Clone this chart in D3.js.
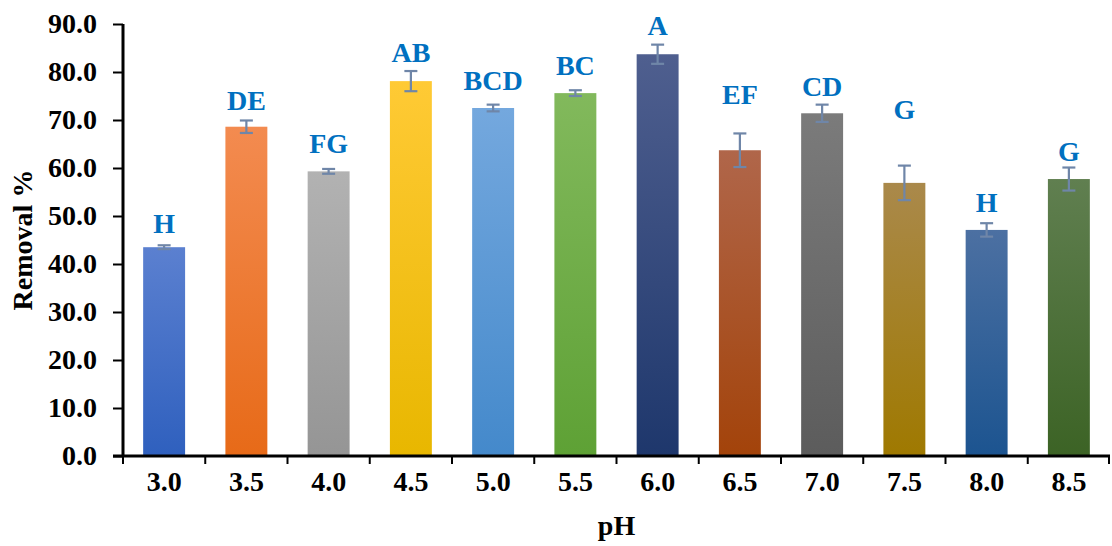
<!DOCTYPE html>
<html>
<head>
<meta charset="utf-8">
<script src="https://cdn.jsdelivr.net/npm/d3@7"></script>
<style>
  html, body { margin: 0; padding: 0; background: #fff; }
  svg { display: block; }
  text { font-family: "Liberation Serif", "Times New Roman", serif; font-weight: bold; }
</style>
</head>
<body>
<svg id="chart" width="1112" height="546"></svg>
<script>
// pH levels and mean removal (%) with standard deviation
const phLevels = ["3.0", "3.5", "4.0", "4.5", "5.0", "5.5", "6.0", "6.5", "7.0", "7.5", "8.0", "8.5"];
const removal  = [43.5, 68.6, 59.3, 78.1, 72.5, 75.6, 83.7, 63.7, 71.4, 56.9, 47.1, 57.7];
const stdDev   = [0.4, 1.3, 0.5, 2.1, 0.7, 0.6, 2.0, 3.5, 1.8, 3.6, 1.4, 2.4];
// Significance groups and the value at which each letter sits
const groups   = ["H", "DE", "FG", "AB", "BCD", "BC", "A", "EF", "CD", "G", "H", "G"];
const groupAt  = [46.5, 72.1, 63.1, 82.1, 76.2, 79.4, 87.7, 73.3, 75.1, 70.2, 50.9, 61.5];
const yTicks   = [0, 10, 20, 30, 40, 50, 60, 70, 80, 90];
// Bar gradient colours (top, bottom)
const barTop    = ["#5B80D0", "#F38B50", "#B2B2B2", "#FFCA35", "#74A8DE", "#82B95C", "#4F5F8F", "#B0664A", "#7B7B7B", "#AA894B", "#4C70A2", "#607F50"];
const barBottom = ["#2F60BE", "#E76A18", "#959595", "#E8B700", "#4489CB", "#5EA135", "#1E376C", "#A3430A", "#5C5C5C", "#9F7900", "#1C5490", "#3C6325"];

const svg = d3.select("#chart");
const margin = { left: 123, right: 2, top: 24, bottom: 90 };
const W = 1112, H = 546;
const x0 = margin.left, x1 = W - margin.right;
const yTop = margin.top, yBase = H - margin.bottom;

const x = d3.scaleBand().domain(phLevels).range([x0, x1]).paddingInner(0.49).paddingOuter(0.245);
const y = d3.scaleLinear().domain([0, 90]).range([yBase, yTop]);

const defs = svg.append("defs");
phLevels.forEach((p, i) => {
  const g = defs.append("linearGradient")
    .attr("id", "grad" + i).attr("x1", 0).attr("y1", 0).attr("x2", 0).attr("y2", 1);
  g.append("stop").attr("offset", "0%").attr("stop-color", barTop[i]);
  g.append("stop").attr("offset", "100%").attr("stop-color", barBottom[i]);
});

// Bars
svg.append("g").selectAll("rect")
  .data(phLevels)
  .join("rect")
  .attr("x", d => x(d))
  .attr("width", x.bandwidth())
  .attr("y", (d, i) => y(removal[i]))
  .attr("height", (d, i) => y(0) - y(removal[i]))
  .attr("fill", (d, i) => `url(#grad${i})`);

// Error bars
const errColor = "#6F86A8";
const cap = 6.5;
const eg = svg.append("g").attr("stroke", errColor).attr("stroke-width", 2.2);
phLevels.forEach((p, i) => {
  const cx = x(p) + x.bandwidth() / 2;
  const hi = y(removal[i] + stdDev[i]), lo = y(removal[i] - stdDev[i]);
  eg.append("line").attr("x1", cx).attr("x2", cx).attr("y1", hi).attr("y2", lo);
  eg.append("line").attr("x1", cx - cap).attr("x2", cx + cap).attr("y1", hi).attr("y2", hi);
  eg.append("line").attr("x1", cx - cap).attr("x2", cx + cap).attr("y1", lo).attr("y2", lo);
});

// Group letters
svg.append("g").selectAll("text")
  .data(phLevels)
  .join("text")
  .attr("x", d => x(d) + x.bandwidth() / 2)
  .attr("y", (d, i) => y(groupAt[i]))
  .attr("text-anchor", "middle")
  .attr("font-size", 28)
  .attr("fill", "#0070C0")
  .text((d, i) => groups[i]);

// Y axis
const yAxis = svg.append("g")
  .attr("transform", `translate(${x0},0)`)
  .call(d3.axisLeft(y).tickValues(yTicks).tickFormat(d3.format(".1f")).tickSize(10).tickPadding(16));
yAxis.select(".domain").attr("stroke", "#000").attr("stroke-width", 3).attr("d", `M0,${yTop}V${yBase}`);
yAxis.selectAll(".tick line").attr("stroke", "#000").attr("stroke-width", 2);
yAxis.selectAll(".tick text").attr("font-size", 28).attr("fill", "#000")
  .attr("font-family", "Liberation Serif, serif").attr("font-weight", "bold");

// X axis
const xAxis = svg.append("g")
  .attr("transform", `translate(0,${yBase})`)
  .call(d3.axisBottom(x).tickSize(0).tickPadding(35));
xAxis.select(".domain").attr("stroke", "#000").attr("stroke-width", 3).attr("d", `M${x0 - 10},0H${x1}`);
xAxis.selectAll(".tick text").attr("font-size", 28).attr("fill", "#000")
  .attr("font-family", "Liberation Serif, serif").attr("font-weight", "bold")
  .attr("dy", "0");
// Category boundary tick marks
const bounds = phLevels.map(d => x(d) - x.step() * x.paddingInner() / 2);
bounds.push(x1 - 1);
bounds[0] = x0;
xAxis.append("g").selectAll("line")
  .data(bounds)
  .join("line")
  .attr("x1", d => d).attr("x2", d => d)
  .attr("y1", 0).attr("y2", 8)
  .attr("stroke", "#000").attr("stroke-width", 2);

// Axis titles
svg.append("text")
  .attr("x", (x0 + x1) / 2).attr("y", 535)
  .attr("text-anchor", "middle").attr("font-size", 28).attr("fill", "#000")
  .text("pH");
svg.append("text")
  .attr("transform", `translate(32,${(yTop + yBase) / 2}) rotate(-90)`)
  .attr("text-anchor", "middle").attr("font-size", 28).attr("fill", "#000")
  .text("Removal %");
</script>
</body>
</html>
